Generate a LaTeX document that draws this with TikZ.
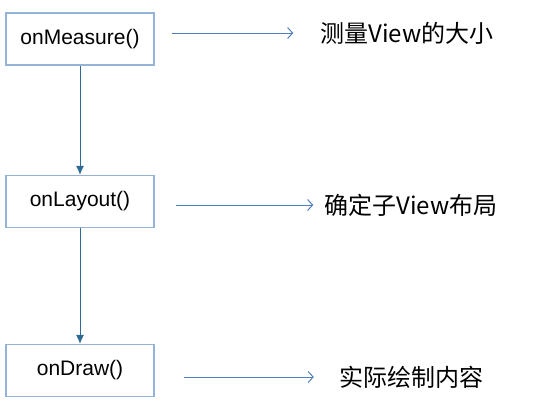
\documentclass[tikz,border=0pt]{standalone}
\usepackage{fontspec}
\setmainfont{Liberation Sans}
\newfontfamily\cjk{Noto Sans CJK SC}
\usetikzlibrary{calc, arrows.meta, positioning}

\definecolor{boxline}{HTML}{95B3D7}
\definecolor{flowline}{HTML}{4F7FBA}
\definecolor{stepline}{HTML}{2E6A94}

\begin{document}
\begin{tikzpicture}[x=1pt, y=-1pt, >=latex]
				\tikzstyle{method} = [draw=boxline, line width=1.3pt, minimum width=148pt, minimum height=52pt, inner sep=0pt, font=\fontsize{21}{25}\selectfont]
				\tikzstyle{desc} = [draw=none, inner sep=0pt, font=\cjk\fontsize{24}{28}\selectfont]
				\tikzstyle{flow} = [draw=flowline, line width=1pt, -{Straight Barb[length=5pt, width=11pt]}]
				\tikzstyle{next} = [draw=stepline, line width=1pt, -{Latex[length=9pt, width=8pt]}]
				
				\useasboundingbox (0, 0) rectangle (557, 405);
				
				\node[method] 	at (80, 39) 	(nMeasure) 	{onMeasure()};
				\node[method] 	at (80, 201.5)	(nLayout) 	{onLayout()};
				\node[method] 	at (80, 370.5) 	(nDraw) 	{onDraw()};
				
				\node[desc]	at (407, 33)	(dMeasure)	{测量View的大小};
				\node[desc]	at (411, 205)	(dLayout)	{确定子View布局};
				\node[desc]	at (411, 377)	(dDraw)		{实际绘制内容};
				
				\path
				(nMeasure)	edge[next]	(nLayout)
				(nLayout)	edge[next]	(nDraw);
				
				\path
				(nMeasure.east |- dMeasure)	edge[flow, shorten <=17pt, shorten >=27pt]	(dMeasure.west)
				(nLayout.east |- dLayout)	edge[flow, shorten <=21pt, shorten >=11pt]	(dLayout.west)
				(nDraw.east |- dDraw)		edge[flow, shorten <=29pt, shorten >=25pt]	(dDraw.west);
\end{tikzpicture}
\end{document}
